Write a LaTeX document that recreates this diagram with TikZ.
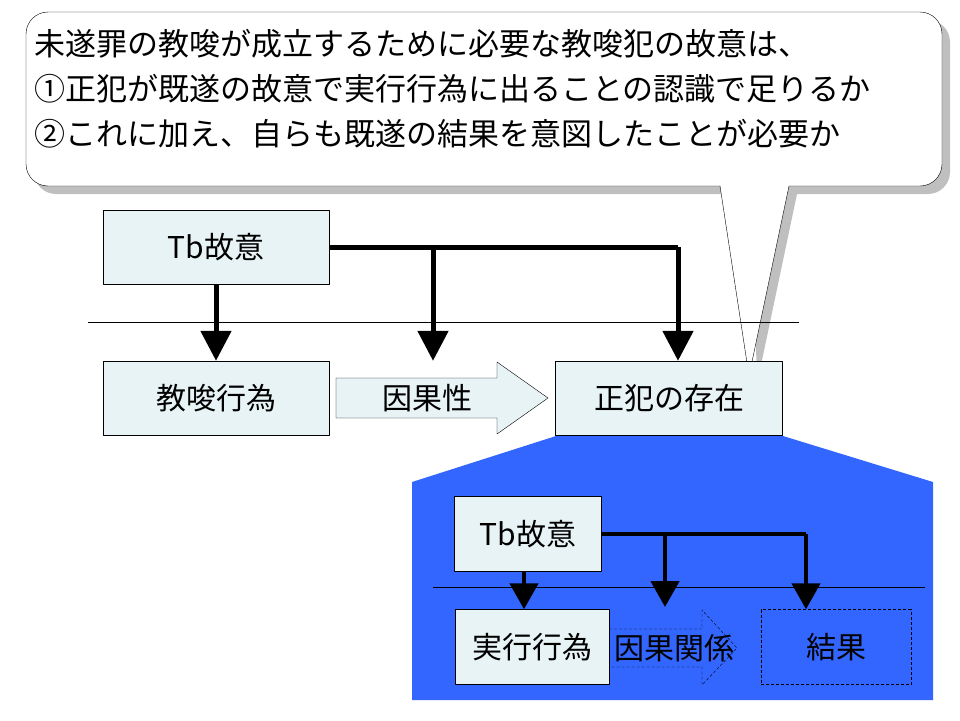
\documentclass[tikz,border=0pt]{standalone}
\usepackage{fontspec}
\setmainfont{Noto Sans CJK JP}
\usetikzlibrary{arrows.meta}
\definecolor{boxfill}{HTML}{E8F3F6}
\definecolor{zoomblue}{HTML}{3366FF}

\begin{document}
\begin{tikzpicture}[x = 1pt, y = -1pt, line join = round,
  box/.style = {draw, fill = boxfill, inner sep = 0, font = \fontsize{30}{30}\selectfont},
  flow/.style = {line width = 5, -{Triangle[length = 30, width = 30]}},
  subflow/.style = {line width = 4.5, -{Triangle[length = 26, width = 28]}}]
  \useasboundingbox (0, 0) rectangle (960, 720);

  % callout with shadow
  \fill[black!25] (34, 20) [rounded corners = 22] -- (950, 20) -- (950, 194)
    [sharp corners] -- (797, 194) -- (757, 384) -- (752, 194)
    [rounded corners = 22] -- (34, 194) -- cycle;
  \draw[fill = white] (26, 12) [rounded corners = 22] -- (942, 12) -- (942, 186)
    [sharp corners] -- (789, 186) -- (749, 376) -- (720, 186)
    [rounded corners = 22] -- (26, 186) -- cycle;
  \begin{scope}[every node/.style = {anchor = west, inner sep = 0, font = \fontsize{31}{31}\selectfont}]
    \node (q0) at (34, 44) {未遂罪の教唆が成立するために必要な教唆犯の故意は、};
    \node (q1) at (34, 89) {①正犯が既遂の故意で実行行為に出ることの認識で足りるか};
    \node (q2) at (34, 134) {②これに加え、自らも既遂の結果を意図したことが必要か};
  \end{scope}

  % upper diagram
  \draw (88, 322) -- (799, 322);
  \node[box, minimum width = 226, minimum height = 74] (tb) at (216, 247) {Tb故意};
  \node[box, minimum width = 226, minimum height = 74] (act) at (216, 398) {教唆行為};
  \node[box, minimum width = 227, minimum height = 74] (main) at (669, 398) {正犯の存在};
  \draw[fill = boxfill] (336, 378) -- (497, 378) -- (497, 362) -- (548, 398)
    -- (497, 434) -- (497, 418) -- (336, 418) -- cycle;
  \node[font = \fontsize{30}{30}\selectfont] (cause) at (427, 398) {因果性};
  \draw[flow] (tb) -- (act);
  \draw[line width = 5] (tb.east) -- (678, 247) coordinate (c1);
  \draw[flow] (c1) -- (c1 |- main.north);
  \coordinate (c2) at (433, 247);
  \draw[flow] (c2) -- (c2 |- main.north);

  % zoomed area
  \fill[zoomblue] (556, 436) -- (783, 436) -- (933, 482) -- (933, 700)
    -- (412, 700) -- (412, 482) -- cycle;
  \draw (433, 587) -- (925, 587);
  \node[box, minimum width = 147, minimum height = 75] (tb2) at (528, 534) {Tb故意};
  \node[box, minimum width = 154, minimum height = 75] (exe) at (532, 647) {実行行為};
  \node[draw, densely dashed, minimum width = 150, minimum height = 75,
    font = \fontsize{30}{30}\selectfont] (res) at (836, 647) {結果};
  \draw[densely dashed] (609, 629) -- (702, 629) -- (702, 610) -- (737, 648)
    -- (702, 685) -- (702, 667) -- (609, 667);
  \node[font = \fontsize{30}{30}\selectfont, inner sep = 0] (cause2) at (674, 648) {因果関係};
  \coordinate (d0) at (524, 572);
  \draw[subflow] (d0) -- (d0 |- exe.north);
  \draw[line width = 4.5] (tb2.east |- 0, 534) -- (806, 534) coordinate (d1);
  \draw[subflow] (d1) -- (d1 |- res.north);
  \coordinate (d2) at (665, 534);
  \draw[subflow] (d2) -- (665, 607);
\end{tikzpicture}
\end{document}
